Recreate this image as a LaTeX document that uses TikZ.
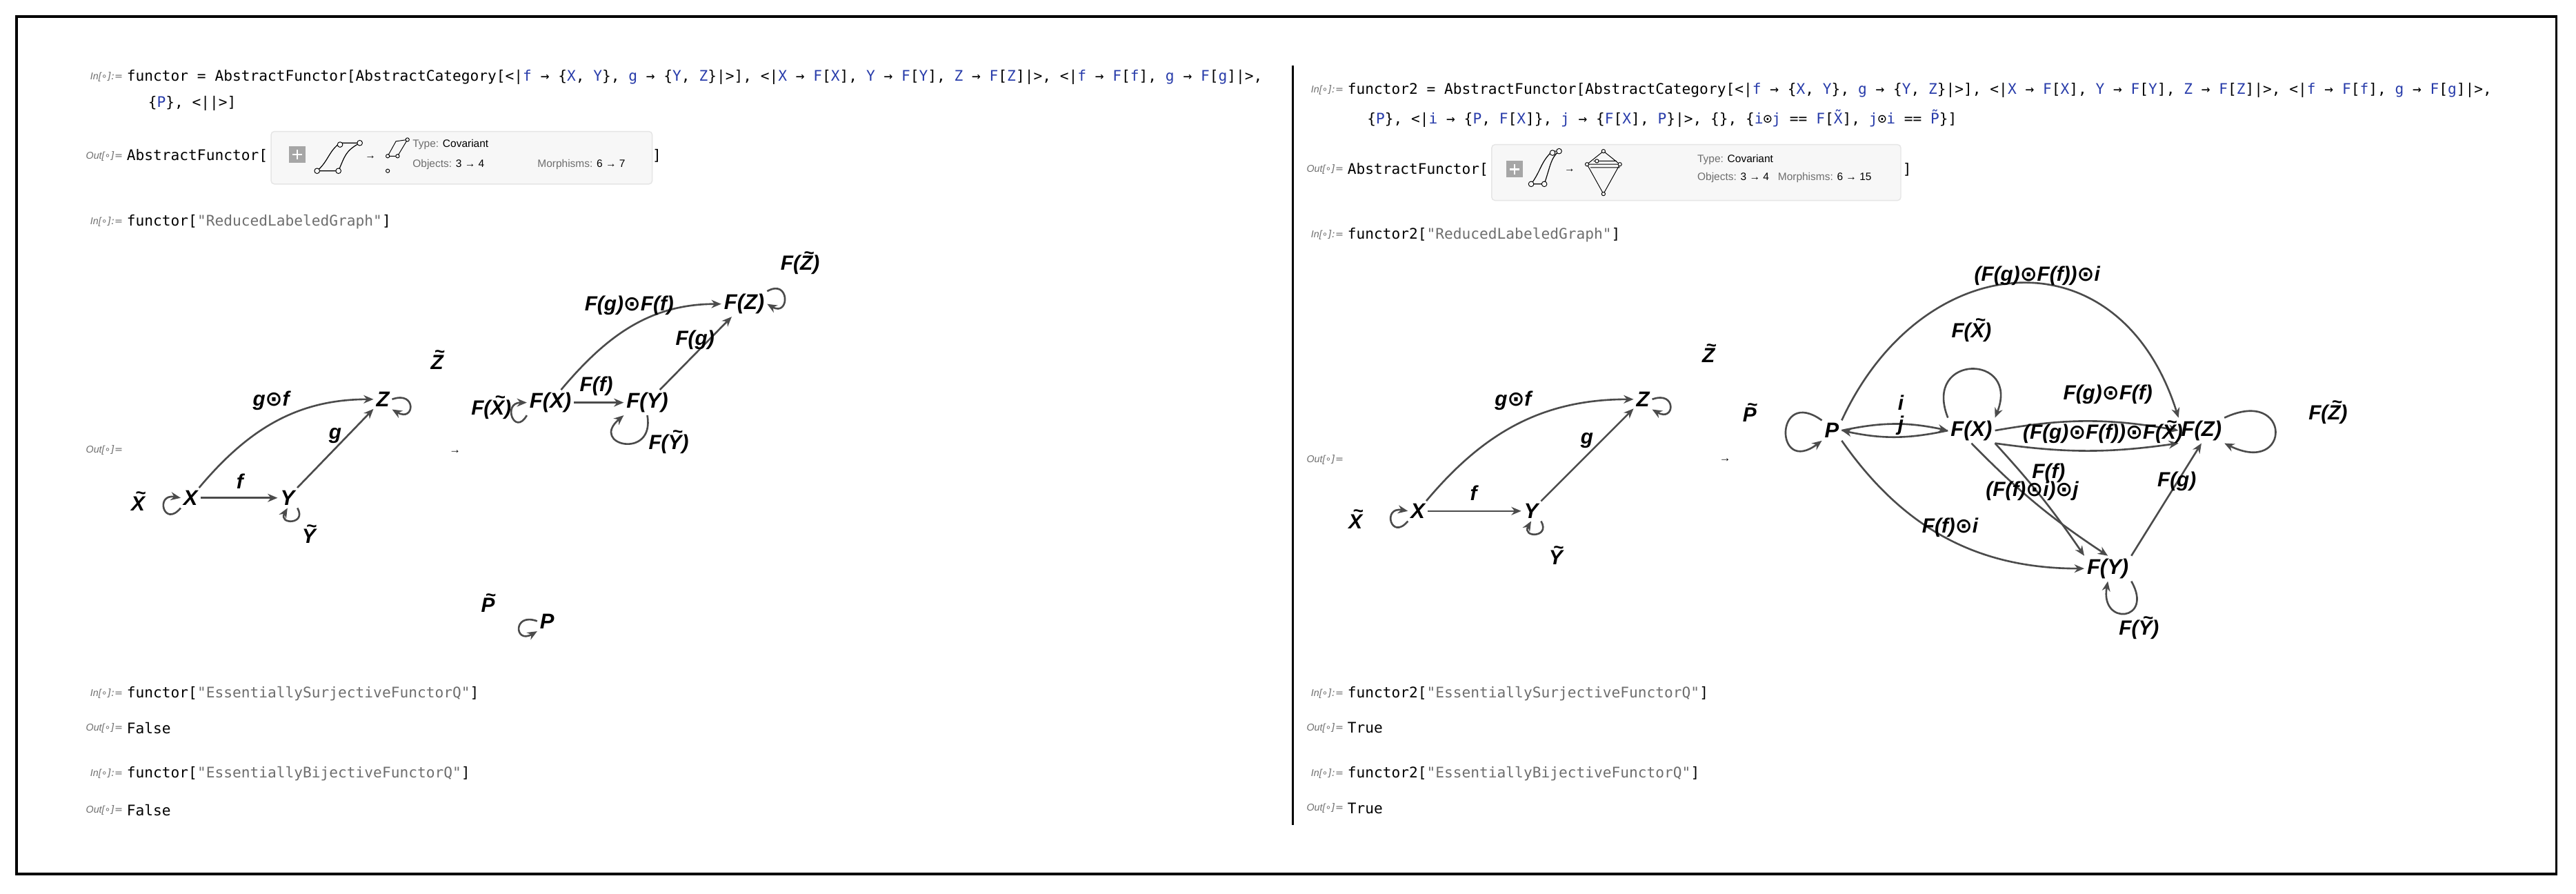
\documentclass[tikz,border=0pt]{standalone}
\usepackage{fontspec}
\setmainfont{Liberation Sans}
\newfontfamily\codef{DejaVu Sans Mono}
\newfontfamily\symf{DejaVu Sans}
\usetikzlibrary{arrows.meta}
\definecolor{cblue}{RGB}{40,60,170}
\definecolor{cgray}{RGB}{110,110,110}
\definecolor{egray}{RGB}{75,75,75}
\newcommand{\B}[1]{\textcolor{cblue}{#1}}
\newcommand{\Sg}[1]{\textcolor{cgray}{#1}}
\newcommand{\od}{{\symf\bfseries ⊙}}
\newcommand{\tl}[1]{\setbox0=\hbox{#1}\hbox{\rlap{\hbox to\wd0{\hss\kern0.25em\raisebox{0.55em}{\fontsize{11}{11}\selectfont\bfseries\char"7E}\hss}}\box0}}
\tikzset{
 code/.style={anchor=west,inner sep=0,font=\codef\fontsize{8.9}{11}\selectfont},
 prompt/.style={anchor=east,inner sep=0,text=cgray,font=\itshape\fontsize{6}{7}\selectfont},
 obj/.style={inner sep=1.5pt,font=\bfseries\itshape\fontsize{13}{14}\selectfont},
 lab/.style={inner sep=0,font=\bfseries\itshape\fontsize{12.5}{14}\selectfont},
 arr/.style={draw=egray,line width=1.1pt,-{Stealth[length=6pt,width=5pt]}},
 lp/.style={arr,looseness=1,min distance=16pt},
 slp/.style={arr,looseness=1,min distance=10pt},
 sumbox/.style={draw=black!10,fill=black!3,rounded corners=2pt,line width=0.6pt},
 small/.style={anchor=west,inner sep=0,font=\fontsize{6.5}{7}\selectfont},
}
\begin{document}
\begin{tikzpicture}[x=1pt,y=-1pt]
\useasboundingbox (0,0) rectangle (1568,544);
\fill[white] (0,0) rectangle (1568,544);
\draw[line width=1.6pt] (10,10) rectangle (1556,532);
\draw[line width=1pt] (787,40) -- (787,502);
% ---------- left panel ----------
\node[prompt] (p1) at (75,47) {In[\symf∘]:=};
\node[code] (c1) at (77,47) {functor = AbstractFunctor[AbstractCategory[<|\B{f} → \{\B{X}, \B{Y}\}, \B{g} → \{\B{Y}, \B{Z}\}|>], <|\B{X} → \B{F}[\B{X}], \B{Y} → \B{F}[\B{Y}], \B{Z} → \B{F}[\B{Z}]|>, <|\B{f} → \B{F}[\B{f}], \B{g} → \B{F}[\B{g}]|>,};
\node[code] (c2) at (90,63) {\{\B{P}\}, <||>]};
\node[prompt] (p2) at (75,95) {Out[\symf∘]=};
\node[code] (c3) at (77,95) {AbstractFunctor[};
\draw[sumbox] (165,80) rectangle (397,112);
\node[code] (c3b) at (397,95) {]};
\fill[black!35] (176,89) rectangle (186,99);
\draw[white,line width=1pt] (178,94) -- (184,94) (181,91) -- (181,97);
\draw[line width=0.5pt] (193,104) -- (206,104) .. controls (210,95) and (210,92) .. (219,87) -- (207,87) .. controls (200,92) and (200,98) .. (193,104);
\foreach \p in {(193,104),(206,104),(219,87),(207,88)} \draw[fill=white,line width=0.4pt] \p circle (1.6);
\node[small] (ar1) at (222,96) {→};
\draw[line width=0.4pt] (236,95) -- (242,95) -- (248,85) (236,95) -- (241,86) -- (248,85);
\foreach \p in {(236,95),(242,95),(248,85),(236,104)} \draw[fill=white,line width=0.4pt] \p circle (1.1);
\node[small] (t1) at (251,88) {\textcolor{cgray}{Type:} Covariant};
\node[small] (t2) at (251,100) {\textcolor{cgray}{Objects:} 3 → 4};
\node[small] (t3) at (327,100) {\textcolor{cgray}{Morphisms:} 6 → 7};
\node[prompt] (p3) at (75,135) {In[\symf∘]:=};
\node[code] (c4) at (77,135) {functor[\Sg{"ReducedLabeledGraph"}]};
\node[prompt] (p4) at (75,274) {Out[\symf∘]=};
% graph A
\node[obj] (aX) at (116,303) {X};
\node[obj] (aY) at (175,303) {Y};
\node[obj] (aZ) at (233,243) {Z};
\draw[arr] (aX) -- (aY);
\draw[arr] (aY) -- (aZ);
\draw[arr] (aX) to[out=50,in=180] (aZ);
\draw[lp] (aX.south west) to[out=230,in=170,looseness=5] (aX.west);
\draw[slp] (aY.south east) to[out=-60,in=-120,looseness=5] (aY.south);
\draw[lp] (aZ.east) to[out=20,in=-30,looseness=5] (aZ.south east);
\node[lab] (lf) at (146,293) {f};
\node[lab] (lg) at (204,265) {g};
\node[lab] (lgf) at (165,244) {g\od f};
\node[lab] (lXt) at (84,305) {\tl{X}};
\node[lab] (lYt) at (188,325) {\tl{Y}};
\node[lab] (lZt) at (266,219) {\tl{Z}};
\node[inner sep=0,font=\fontsize{7}{7}\selectfont] (arrA) at (277,275) {→};
% graph B
\node[obj] (bX) at (335,245) {F(X)};
\node[obj] (bY) at (394,245) {F(Y)};
\node[obj] (bZ) at (453,185) {F(Z)};
\node[obj] (bP) at (333,378) {P};
\draw[arr] (bX) -- (bY);
\draw[arr] (bY) -- (bZ);
\draw[arr] (bX) to[out=50,in=180] (bZ);
\draw[slp] (bX.south west) to[out=240,in=180,looseness=5] (bX.west);
\draw[slp] (bY.south) to[out=-80,in=-140,looseness=5] (bY.south west);
\draw[lp] (bZ.north east) to[out=30,in=-30,looseness=4] (bZ.east);
\draw[lp] (bP.west) to[out=160,in=210,looseness=5] (bP.south west);
\node[lab] (lFgf) at (383,186) {F(g)\od F(f)};
\node[lab] (lFf) at (363,235) {F(f)};
\node[lab] (lFg) at (423,207) {F(g)};
\node[lab] (lFXt) at (299,248) {F(\tl{X})};
\node[lab] (lFYt) at (407,269) {F(\tl{Y})};
\node[lab] (lFZt) at (487,160) {F(\tl{Z})};
\node[lab] (lPt) at (297,367) {\tl{P}};
\node[prompt] (p5) at (75,422) {In[\symf∘]:=};
\node[code] (c5) at (77,422) {functor[\Sg{"EssentiallySurjectiveFunctorQ"}]};
\node[prompt] (p6) at (75,443) {Out[\symf∘]=};
\node[code] (c6) at (77,443) {False};
\node[prompt] (p7) at (75,471) {In[\symf∘]:=};
\node[code] (c7) at (77,471) {functor[\Sg{"EssentiallyBijectiveFunctorQ"}]};
\node[prompt] (p8) at (75,493) {Out[\symf∘]=};
\node[code] (c8) at (77,493) {False};
% ---------- right panel ----------
\node[prompt] (q1) at (818,55) {In[\symf∘]:=};
\node[code] (d1) at (820,55) {functor2 = AbstractFunctor[AbstractCategory[<|\B{f} → \{\B{X}, \B{Y}\}, \B{g} → \{\B{Y}, \B{Z}\}|>], <|\B{X} → \B{F}[\B{X}], \B{Y} → \B{F}[\B{Y}], \B{Z} → \B{F}[\B{Z}]|>, <|\B{f} → \B{F}[\B{f}], \B{g} → \B{F}[\B{g}]|>,};
\node[code] (d2) at (832,72) {\{\B{P}\}, <|\B{i} → \{\B{P}, \B{F}[\B{X}]\}, \B{j} → \{\B{F}[\B{X}], \B{P}\}|>, \{\}, \{\B{i}⊙\B{j} == \B{F}[\B{X̃}], \B{j}⊙\B{i} == \B{P̃}\}]};
\node[prompt] (q2) at (818,103) {Out[\symf∘]=};
\node[code] (d3) at (820,103) {AbstractFunctor[};
\draw[sumbox] (908,88) rectangle (1157,122);
\node[code] (d3b) at (1158,103) {]};
\fill[black!35] (917,98) rectangle (927,108);
\draw[white,line width=1pt] (919,103) -- (925,103) (922,100) -- (922,106);
\draw[line width=0.5pt] (932,112) -- (940,112) .. controls (944,100) and (944,96) .. (949,92) -- (945,92) .. controls (938,98) and (938,104) .. (932,112);
\foreach \p in {(932,112),(940,112),(949,92),(945,93)} \draw[fill=white,line width=0.4pt] \p circle (1.6);
\node[small] (ar2) at (952,104) {→};
\draw[line width=0.4pt] (966,100) -- (976,92) -- (986,100) -- (976,118) -- cycle (966,100) -- (986,100) (970,98) -- (984,98) (968,102) -- (986,102);
\foreach \p in {(966,100),(976,92),(986,100),(976,118),(972,98)} \draw[fill=white,line width=0.4pt] \p circle (1.1);
\node[small] (u1) at (1033,97) {\textcolor{cgray}{Type:} Covariant};
\node[small] (u2) at (1033,108) {\textcolor{cgray}{Objects:} 3 → 4};
\node[small] (u3) at (1082,108) {\textcolor{cgray}{Morphisms:} 6 → 15};
\node[prompt] (q3) at (818,143) {In[\symf∘]:=};
\node[code] (d4) at (820,143) {functor2[\Sg{"ReducedLabeledGraph"}]};
\node[prompt] (q4) at (818,280) {Out[\symf∘]=};
% graph C
\node[obj] (cX) at (863,311) {X};
\node[obj] (cY) at (932,311) {Y};
\node[obj] (cZ) at (1000,243) {Z};
\draw[arr] (cX) -- (cY);
\draw[arr] (cY) -- (cZ);
\draw[arr] (cX) to[out=50,in=180] (cZ);
\draw[lp] (cX.south west) to[out=230,in=170,looseness=5] (cX.west);
\draw[slp] (cY.south east) to[out=-60,in=-120,looseness=5] (cY.south);
\draw[lp] (cZ.east) to[out=20,in=-30,looseness=5] (cZ.south east);
\node[lab] (mf) at (897,300) {f};
\node[lab] (mg) at (966,268) {g};
\node[lab] (mgf) at (921,244) {g\od f};
\node[lab] (mXt) at (825,316) {\tl{X}};
\node[lab] (mYt) at (947,338) {\tl{Y}};
\node[lab] (mZt) at (1040,215) {\tl{Z}};
\node[inner sep=0,font=\fontsize{7}{7}\selectfont] (arrC) at (1050,280) {→};
% graph D
\node[obj] (dP) at (1115,262) {P};
\node[obj] (dX) at (1200,262) {F(X)};
\node[obj] (dZ) at (1340,262) {F(Z)};
\node[obj] (dY) at (1283,346) {F(Y)};
\draw[arr] (dP.north east) .. controls (1170,150) and (1290,140) .. (dZ.north west);
\draw[arr] (dP.east) to[bend left=12] (dX.west);
\draw[arr] (dX.west) to[bend left=12] (dP.east);
\draw[arr] (dX.north west) .. controls (1170,215) and (1230,215) .. (dX.north east);
\draw[arr] (dX.east) to[bend left=10] (dZ.west);
\draw[arr] (dX.south east) to[bend right=8] (dZ.south west);
\draw[arr] (dX.south east) to[bend left=4] (dY.north west);
\draw[arr] (dX.south) to[bend right=6] (dY.north);
\draw[arr] (dY.north east) -- (dZ.south);
\draw[arr] (dP.south east) to[out=-55,in=180] (dY.west);
\draw[arr] (dP.north west) .. controls (1080,235) and (1080,290) .. (dP.south west);
\draw[arr] (dZ.north east) .. controls (1395,235) and (1395,290) .. (dZ.south east);
\draw[slp] (dY.south east) to[out=-60,in=-100,looseness=5] (dY.south);
\node[lab] (nt) at (1240,168) {(F(g)\od F(f))\od i};
\node[lab] (nFXt) at (1200,201) {F(\tl{X})};
\node[lab] (ni) at (1157,245) {i};
\node[lab] (nj) at (1157,259) {j};
\node[lab] (nFgf) at (1283,240) {F(g)\od F(f)};
\node[lab] (nFgfX) at (1280,263) {(F(g)\od F(f))\od F(\tl{X})};
\node[lab] (nFf) at (1247,288) {F(f)};
\node[lab] (nFfij) at (1237,299) {(F(f)\od i)\od j};
\node[lab] (nFg) at (1325,293) {F(g)};
\node[lab] (nFfi) at (1187,321) {F(f)\od i};
\node[lab] (nPt) at (1065,251) {\tl{P}};
\node[lab] (nFZt) at (1417,251) {F(\tl{Z})};
\node[lab] (nFYt) at (1302,382) {F(\tl{Y})};
\node[prompt] (q5) at (818,422) {In[\symf∘]:=};
\node[code] (d5) at (820,422) {functor2[\Sg{"EssentiallySurjectiveFunctorQ"}]};
\node[prompt] (q6) at (818,443) {Out[\symf∘]=};
\node[code] (d6) at (820,443) {True};
\node[prompt] (q7) at (818,471) {In[\symf∘]:=};
\node[code] (d7) at (820,471) {functor2[\Sg{"EssentiallyBijectiveFunctorQ"}]};
\node[prompt] (q8) at (818,492) {Out[\symf∘]=};
\node[code] (d8) at (820,492) {True};
\end{tikzpicture}
\end{document}
